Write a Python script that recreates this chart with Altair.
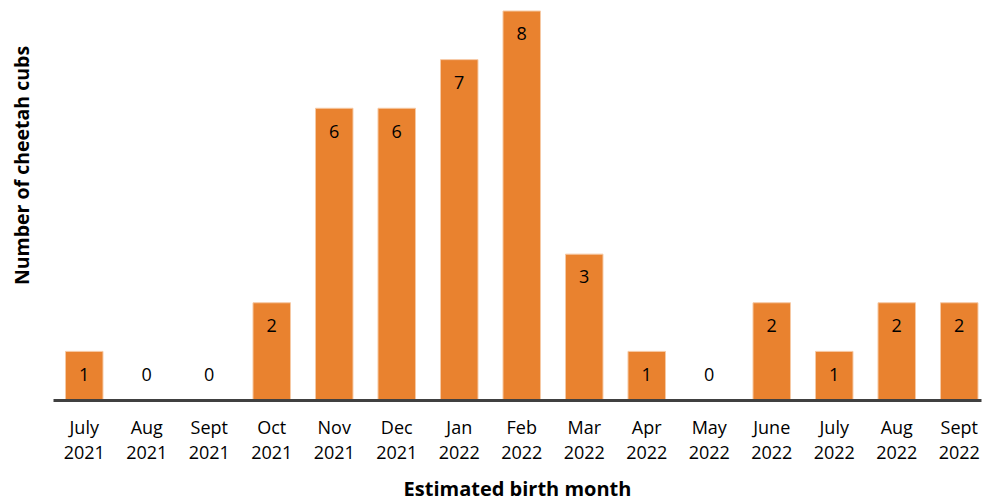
import altair as alt
import pandas as pd

months = ["July 2021", "Aug 2021", "Sept 2021", "Oct 2021", "Nov 2021", "Dec 2021",
          "Jan 2022", "Feb 2022", "Mar 2022", "Apr 2022", "May 2022", "June 2022",
          "July 2022", "Aug 2022", "Sept 2022"]
cubs = [1, 0, 0, 2, 6, 6, 7, 8, 3, 1, 0, 2, 1, 2, 2]

df = pd.DataFrame({"month": months, "cubs": cubs})

FONT = "Open Sans"

x = alt.X(
    "month:N",
    sort=months,
    scale=alt.Scale(paddingInner=0.4, paddingOuter=0.124, align=0.806),
    axis=alt.Axis(
        title="Estimated birth month",
        titleFont=FONT, titleFontSize=20, titleFontWeight="bold", titleColor="#000000",
        titleY=95, titleBaseline="alphabetic",
        labelExpr="split(datum.value, ' ')",
        labelFont=FONT, labelFontSize=18, labelColor="#000000",
        labelAngle=0, labelBaseline="top", labelPadding=19, labelLineHeight=25,
        ticks=False, domainColor="#404040", domainWidth=3, grid=False, zindex=1,
    ),
)

y_axis = alt.Axis(
    title="Number of cheetah cubs",
    titleFont=FONT, titleFontSize=19.5, titleFontWeight="bold", titleColor="#000000",
    titleX=-31, titleY=154, titleAngle=270, titleAlign="center", titleBaseline="middle",
    labels=False, ticks=False, domain=False, grid=False,
)

base = alt.Chart(df)

bars = base.mark_bar(color="#E9822F", stroke="#F6C9A4", strokeWidth=1).encode(
    x=x,
    y=alt.Y("cubs:Q", scale=alt.Scale(domain=[0, 8], nice=False), axis=y_axis),
)

labels = base.transform_calculate(
    lpos="datum.cubs > 0 ? datum.cubs - 0.5 : 0.5"
).mark_text(font=FONT, fontSize=18, color="#000000", baseline="middle").encode(
    x=alt.X("month:N", sort=months),
    y=alt.Y("lpos:Q"),
    text=alt.Text("cubs:Q"),
)

chart = alt.layer(bars, labels).properties(
    width=928,
    height=389,
    autosize=alt.AutoSizeParams(type="none"),
    padding={"left": 45, "top": 3, "right": 1, "bottom": 105},
).configure_view(stroke=None)

chart.save("out.html", embed_options={"renderer": "svg", "actions": False})
